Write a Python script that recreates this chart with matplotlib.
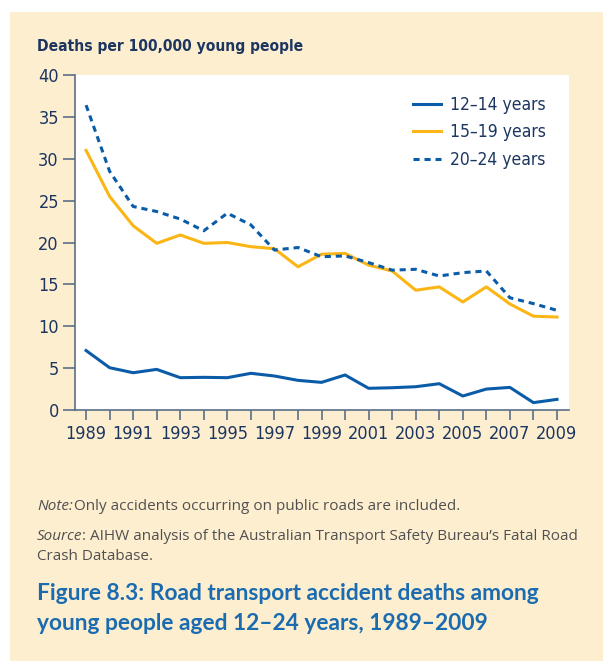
import matplotlib.pyplot as plt
from matplotlib.patches import Rectangle
from matplotlib import font_manager

years = list(range(1989, 2010))
age_12_14 = [7.1, 5.05, 4.45, 4.85, 3.86, 3.9, 3.86, 4.38, 4.06, 3.54, 3.3,
             4.18, 2.59, 2.66, 2.78, 3.14, 1.67, 2.5, 2.7, 0.88, 1.27]
age_15_19 = [31.0, 25.5, 22.0, 19.9, 20.9, 19.9, 20.0, 19.5, 19.26, 17.1, 18.6,
             18.7, 17.3, 16.6, 14.3, 14.7, 12.9, 14.7, 12.66, 11.2, 11.1]
age_20_24 = [36.4, 28.5, 24.3, 23.7, 22.8, 21.4, 23.5, 22.1, 19.1, 19.4, 18.3,
             18.4, 17.6, 16.7, 16.8, 16.0, 16.4, 16.6, 13.4, 12.7, 11.9]
series_labels = ["12\u201314 years", "15\u201319 years", "20\u201324 years"]
yticks = [0, 5, 10, 15, 20, 25, 30, 35, 40]

W, H = 603, 661
BEIGE = "#fdeed0"
NAVY = "#1c3660"
BLUE = "#0b5ca8"
YELLOW = "#fbb616"
AXIS = "#5b6e87"
GREY = "#505050"

names = {f.name for f in font_manager.fontManager.ttflist}
NARROW = "Liberation Sans Narrow" if "Liberation Sans Narrow" in names else "DejaVu Sans"
narrow_kw = dict(family=NARROW, stretch="condensed")

fig = plt.figure(figsize=(W / 100, H / 100), dpi=100, facecolor="white")
bg = Rectangle((10 / W, 0), 1, 1 - 12 / H, transform=fig.transFigure,
               facecolor=BEIGE, edgecolor="none", zorder=-10)
fig.add_artist(bg)

ax = fig.add_axes([75 / W, 1 - 410 / H, (569 - 75) / W, (410 - 75) / H])
ax.set_zorder(1)
ax.set_facecolor("white")

ax.plot(years, age_12_14, color=BLUE, lw=2.2, label=series_labels[0])
ax.plot(years, age_15_19, color=YELLOW, lw=2.2, label=series_labels[1])
ax.plot(years, age_20_24, color=BLUE, lw=2.2, ls=(0, (2, 1.6)), label=series_labels[2])

ax.set_xlim(1988.53, 2009.51)
ax.set_ylim(0, 40)
ax.set_yticks(yticks)
ax.set_xticks(years)
ax.set_xticklabels([str(y) if (y - 1989) % 2 == 0 else "" for y in years])

for s in ["top", "right"]:
    ax.spines[s].set_visible(False)
for s in ["left", "bottom"]:
    ax.spines[s].set_color(AXIS)
    ax.spines[s].set_linewidth(1.2)

ax.tick_params(axis="y", direction="out", length=8.6, width=1.2, color=AXIS,
               labelcolor=NAVY, labelsize=13, pad=3)
ax.tick_params(axis="x", direction="out", length=7, width=1.2, color=AXIS,
               labelcolor=NAVY, labelsize=13, pad=4)
for lbl in ax.get_xticklabels() + ax.get_yticklabels():
    lbl.set_family(NARROW)
    lbl.set_stretch("condensed")

leg = ax.legend(loc="upper right", bbox_to_anchor=(0.985, 0.985), frameon=False,
                handlelength=1.6, handletextpad=0.55, labelspacing=0.55,
                prop=font_manager.FontProperties(family=NARROW, stretch="condensed", size=12.5))
for t in leg.get_texts():
    t.set_color(NAVY)

fig.text(37 / W, 1 - 47 / H, "Deaths per 100,000 young people", weight="bold",
         size=11.2, color=NAVY, va="center", ha="left", **narrow_kw)

fig.text(37 / W, 1 - 507 / H, "Note:", family="Open Sans", style="italic",
         size=11.0, color=GREY, va="center", ha="left")
fig.text(74 / W, 1 - 507 / H, "Only accidents occurring on public roads are included.",
         family="Open Sans", size=11.0, color=GREY, va="center", ha="left")
fig.text(37 / W, 1 - 537 / H, "Source", family="Open Sans", style="italic",
         size=11.0, color=GREY, va="center", ha="left")
fig.text(82 / W, 1 - 537 / H,
         ": AIHW analysis of the Australian Transport Safety Bureau\u2019s Fatal Road",
         family="Open Sans", size=11.0, color=GREY, va="center", ha="left")
fig.text(37 / W, 1 - 557 / H, "Crash Database.", family="Open Sans", size=11.0,
         color=GREY, va="center", ha="left")

fig.text(37 / W, 1 - 594 / H, "Figure 8.3: Road transport accident deaths among",
         family="Lato", weight="bold", size=16.4, color="#1a6bb0", va="center", ha="left")
fig.text(37 / W, 1 - 624 / H, "young people aged 12\u201324 years, 1989\u20132009",
         family="Lato", weight="bold", size=16.4, color="#1a6bb0", va="center", ha="left")

fig.savefig("out.png", dpi=100, facecolor="white")
